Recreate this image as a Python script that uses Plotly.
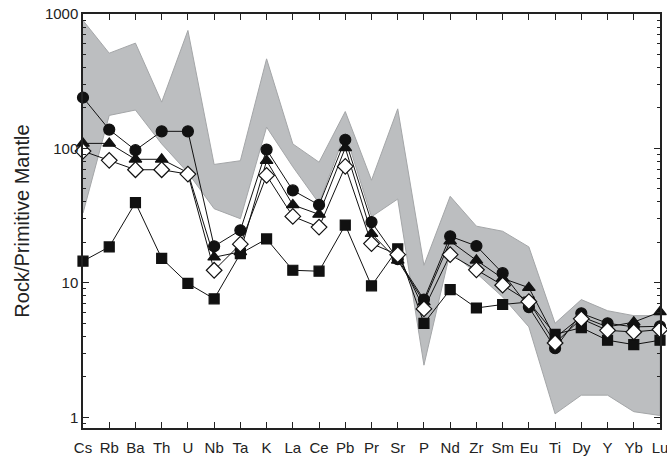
import plotly.graph_objects as go

elements = ["Cs", "Rb", "Ba", "Th", "U", "Nb", "Ta", "K", "La", "Ce", "Pb", "Pr", "Sr",
            "P", "Nd", "Zr", "Sm", "Eu", "Ti", "Dy", "Y", "Yb", "Lu"]

band_upper = [895, 511, 607, 221, 754, 76, 81, 464, 108, 79, 188, 58, 197,
              13.5, 44, 26.4, 24.2, 18.5, 5.0, 7.5, 6.2, 5.7, 5.7]
band_lower = [33, 176, 193, 108, 66, 35.6, 30, 144, 73, 39, 130, 31, 42,
              2.44, 17, 11.8, 7.85, 4.7, 1.06, 1.46, 1.46, 1.1, 1.03]

circles = [239, 138, 97, 134, 134, 18.7, 24.6, 98, 48.7, 38, 116, 28.3, 15,
           7.5, 22.2, 18.8, 11.8, 6.6, 3.26, 5.93, 5.0, 4.7, 4.75]
triangles = [109, 109, 83, 83, 66, 15.5, 17, 81, 38, 32.3, 101, 23.2, 14.7,
             7.2, 20.4, 14.7, 10.8, 9.2, 3.9, 5.6, 4.7, 5.1, 6.07]
squares = [14.5, 18.5, 39.5, 15.2, 9.9, 7.6, 16.5, 21.2, 12.4, 12.2, 26.9, 9.5, 17.9,
           5.0, 8.9, 6.5, 6.9, 7.2, 4.14, 4.64, 3.74, 3.47, 3.74]
diamonds = [95.5, 81.5, 69.4, 69.4, 64.4, 12.4, 19.4, 63, 31.2, 26, 73.5, 19.6, 16.2,
            6.4, 16.2, 12.5, 9.6, 7.25, 3.57, 5.4, 4.43, 4.31, 4.49]

y_ticks = [1, 10, 100, 1000]
y_ticktext = ["1", "10", "100", "1000"]

xs = list(range(len(elements)))

fig = go.Figure()

# shaded band
fig.add_trace(go.Scatter(
    x=xs + xs[::-1], y=band_upper + band_lower[::-1],
    fill="toself", fillcolor="#bcbec0", mode="lines",
    line=dict(color="#a4a6a8", width=1), hoverinfo="skip", showlegend=False))

def series(vals, symbol, fill, size):
    return go.Scatter(
        x=xs, y=vals, mode="lines+markers", cliponaxis=False, showlegend=False,
        line=dict(color="#111111", width=1),
        marker=dict(symbol=symbol, size=size, color=fill,
                    line=dict(color="#111111", width=1.2)))

fig.add_trace(series(circles, "circle", "#111111", 11))
fig.add_trace(series(triangles, "triangle-up", "#111111", 11))
fig.add_trace(series(squares, "square", "#111111", 10))
fig.add_trace(series(diamonds, "diamond", "white", 12))

minor_vals = [m * 10 ** e for e in range(-1, 3) for m in range(2, 10)]

fig.update_layout(
    width=667, height=456,
    margin=dict(l=83, r=7, t=14, b=28),
    paper_bgcolor="white", plot_bgcolor="white",
    font=dict(family="Liberation Sans, Arial, sans-serif", color="#222222", size=15),
    xaxis=dict(
        range=[0, len(elements) - 1], tickmode="array", tickvals=xs, ticktext=elements,
        ticks="inside", ticklen=6, tickwidth=1.2, tickcolor="#222",
        showline=True, linecolor="#222", linewidth=1.5, mirror="ticks",
        showgrid=False, zeroline=False, tickfont=dict(size=15), automargin=False,
        ticklabeloverflow="allow", ticklabelstandoff=5),
    yaxis=dict(
        type="log", range=[-0.08, 3.0],
        tickmode="array", tickvals=y_ticks, ticktext=y_ticktext,
        ticks="inside", ticklen=6, tickwidth=1.2, tickcolor="#222",
        minor=dict(tickmode="array", tickvals=minor_vals, ticks="inside",
                   ticklen=3, tickcolor="#222", showgrid=False),
        showline=True, linecolor="#222", linewidth=1.5, mirror="ticks",
        showgrid=False, zeroline=False, tickfont=dict(size=15), automargin=False,
        ticklabeloverflow="allow",
        title=dict(text="Rock/Primitive Mantle", font=dict(size=20), standoff=10)),
)

fig.write_html("out.html", config={"displayModeBar": False},
               post_script="document.body.style.margin='0px';document.body.style.overflow='hidden';")
